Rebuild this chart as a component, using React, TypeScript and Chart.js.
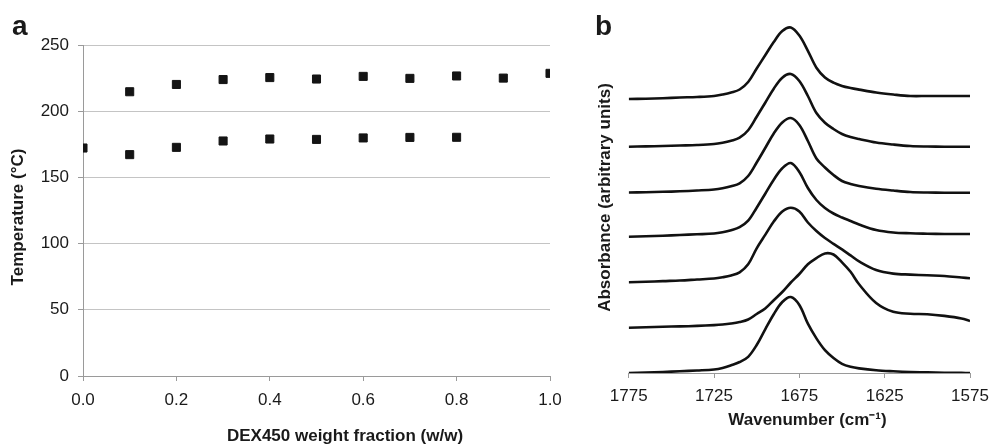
import React, { useEffect, useRef } from "react";
import { Chart, registerables } from "chart.js";

Chart.register(...registerables);

// ---------- Panel a data ----------
const weightFraction = [0, 0.1, 0.2, 0.3, 0.4, 0.5, 0.6, 0.7, 0.8, 0.9, 1.0];
const upperTransition = [null, 214.7, 220.2, 223.9, 225.4, 224.3, 226.3, 224.8, 226.6, 225.0, 228.6];
const lowerTransition = [172.2, 167.2, 172.7, 177.5, 179.0, 178.7, 179.8, 180.2, 180.3, null, null];

// ---------- Panel b data ----------
const wavenumbers = [1775, 1765, 1755, 1745, 1735, 1725, 1720, 1715, 1710, 1705, 1700, 1695, 1690, 1685, 1680, 1675, 1670, 1665, 1660, 1655, 1650, 1645, 1640, 1630, 1620, 1610, 1600, 1590, 1580, 1575];
const spectrum1 = [0, 0.03, 0.08, 0.15, 0.2, 0.3, 0.45, 0.65, 0.95, 1.7, 3.05, 4.37, 5.7, 6.8, 7.15, 6.34, 4.82, 3.13, 2.16, 1.64, 1.31, 1.1, 0.94, 0.65, 0.45, 0.3, 0.3, 0.3, 0.3, 0.3];
const spectrum2 = [0, 0.03, 0.07, 0.12, 0.17, 0.27, 0.4, 0.6, 0.9, 1.65, 3.0, 4.4, 5.8, 6.9, 7.27, 6.57, 5.07, 3.37, 2.4, 1.77, 1.27, 0.97, 0.77, 0.42, 0.22, 0.07, 0.02, 0, 0, 0];
const spectrum3 = [0, 0.03, 0.07, 0.12, 0.2, 0.3, 0.42, 0.62, 0.92, 1.65, 3.0, 4.45, 5.9, 7.0, 7.45, 6.75, 5.15, 3.4, 2.5, 1.75, 1.15, 0.85, 0.65, 0.38, 0.2, 0.05, 0, -0.02, -0.02, -0.02];
const spectrum4 = [0, 0.04, 0.1, 0.17, 0.24, 0.32, 0.45, 0.65, 0.95, 1.6, 2.9, 4.3, 5.7, 6.85, 7.37, 6.47, 4.87, 3.67, 2.87, 2.32, 1.92, 1.57, 1.22, 0.67, 0.42, 0.34, 0.3, 0.27, 0.27, 0.27];
const spectrum5 = [0, 0.05, 0.12, 0.18, 0.28, 0.38, 0.5, 0.68, 1.0, 1.8, 3.4, 4.74, 6.07, 7.08, 7.46, 7.08, 5.98, 5.13, 4.43, 3.85, 3.29, 2.69, 2.09, 1.23, 0.87, 0.77, 0.7, 0.63, 0.48, 0.4];
const spectrum6 = [0, 0.05, 0.1, 0.13, 0.18, 0.26, 0.32, 0.42, 0.57, 0.82, 1.37, 1.92, 2.75, 3.57, 4.52, 5.37, 6.34, 6.96, 7.43, 7.32, 6.54, 5.59, 4.34, 2.47, 1.59, 1.4, 1.35, 1.18, 0.92, 0.67];
const spectrum7 = [0, 0.04, 0.1, 0.17, 0.25, 0.35, 0.5, 0.77, 1.1, 1.62, 2.8, 4.37, 5.88, 7.1, 7.6, 6.8, 4.93, 3.46, 2.28, 1.5, 0.92, 0.62, 0.46, 0.27, 0.17, 0.1, 0.07, 0.03, 0.01, 0];
const spectra = [spectrum1, spectrum2, spectrum3, spectrum4, spectrum5, spectrum6, spectrum7];
const spectrumOffsets = [27.4, 22.63, 18.05, 13.63, 9.07, 4.53, 0];
const wavenumberTicks = [1775, 1725, 1675, 1625, 1575];

const FONT = '"Liberation Sans", Arial, Helvetica, sans-serif';
const TEXT = "#1a1a1a";
const GRID = "#c4c4c4";
const AXIS = "#9a9a9a";

function textPlugin(draw: (ctx: CanvasRenderingContext2D) => void) {
  return {
    id: "extraText",
    afterDraw(chart: any) {
      const ctx = chart.ctx as CanvasRenderingContext2D;
      ctx.save();
      draw(ctx);
      ctx.restore();
    },
  };
}

const noScalePadding = (s: any) => {
  s.paddingLeft = 0;
  s.paddingRight = 0;
};

function PanelA() {
  const ref = useRef<HTMLCanvasElement>(null);
  useEffect(() => {
    if (!ref.current) return;
    const mk = (arr: (number | null)[]) =>
      weightFraction
        .map((x, i) => ({ x, y: arr[i] }))
        .filter((p) => p.y !== null);
    const pointStyle = {
      pointStyle: "rect" as const,
      pointRadius: 5.7,
      pointBackgroundColor: "#141414",
      pointBorderColor: "#141414",
      pointBorderWidth: 1,
      showLine: false,
    };
    const chart = new Chart(ref.current, {
      type: "scatter",
      data: {
        datasets: [
          { data: mk(upperTransition) as any, ...pointStyle },
          { data: mk(lowerTransition) as any, ...pointStyle },
        ],
      },
      options: {
        responsive: false,
        animation: false,
        layout: { padding: { left: 0, top: 45, right: 25, bottom: 0 } },
        plugins: { legend: { display: false }, tooltip: { enabled: false } },
        scales: {
          x: {
            type: "linear",
            min: 0,
            max: 1,
            afterFit: (s: any) => {
              s.height = 70;
              noScalePadding(s);
            },
            ticks: {
              stepSize: 0.2,
              padding: 9,
              color: TEXT,
              font: { family: FONT, size: 17 },
              callback: (v: any) => Number(v).toFixed(1),
              maxRotation: 0,
            },
            grid: { drawOnChartArea: false, drawTicks: true, tickLength: 5, tickColor: AXIS },
            border: { color: AXIS, width: 1 },
          },
          y: {
            min: 0,
            max: 250,
            afterFit: (s: any) => {
              s.width = 83;
            },
            ticks: {
              stepSize: 50,
              padding: 9,
              color: TEXT,
              font: { family: FONT, size: 17 },
            },
            grid: { color: GRID, lineWidth: 1, tickLength: 5, tickColor: AXIS },
            border: { color: AXIS, width: 1 },
          },
        },
      },
      plugins: [
        textPlugin((ctx) => {
          ctx.fillStyle = TEXT;
          ctx.font = `bold 28px ${FONT}`;
          ctx.textAlign = "left";
          ctx.textBaseline = "alphabetic";
          ctx.fillText("a", 12, 35);
          ctx.font = `bold 17px ${FONT}`;
          ctx.textAlign = "center";
          ctx.textBaseline = "middle";
          ctx.fillText("DEX450 weight fraction (w/w)", 345, 436.5);
          ctx.translate(18.5, 217);
          ctx.rotate(-Math.PI / 2);
          ctx.fillText("Temperature (°C)", 0, 0);
        }),
      ],
    });
    return () => chart.destroy();
  }, []);
  return (
    <canvas
      ref={ref}
      width={575}
      height={446}
      style={{ position: "absolute", left: 0, top: 0, width: 575, height: 446 }}
    />
  );
}

function PanelB() {
  const ref = useRef<HTMLCanvasElement>(null);
  useEffect(() => {
    if (!ref.current) return;
    const datasets = spectra.map((s, k) => ({
      data: wavenumbers.map((w, i) => ({ x: w, y: s[i] + spectrumOffsets[k] })),
      borderColor: "#111111",
      borderWidth: 2.6,
      pointRadius: 0,
      fill: false,
      tension: 0.35,
    }));
    const chart = new Chart(ref.current, {
      type: "line",
      data: { datasets: datasets as any },
      options: {
        responsive: false,
        animation: false,
        layout: { padding: { left: 53.7, top: 23, right: 22, bottom: 0 } },
        plugins: { legend: { display: false }, tooltip: { enabled: false } },
        scales: {
          x: {
            type: "linear",
            min: 1575,
            max: 1775,
            reverse: true,
            afterFit: (s: any) => {
              s.height = 73;
              noScalePadding(s);
            },
            afterBuildTicks: (s: any) => {
              s.ticks = wavenumberTicks.map((v) => ({ value: v }));
            },
            ticks: {
              padding: 8,
              color: TEXT,
              font: { family: FONT, size: 17 },
              callback: (v: any) => String(v),
              maxRotation: 0,
              autoSkip: false,
            },
            grid: { drawOnChartArea: false, drawTicks: true, tickLength: 5, tickColor: AXIS },
            border: { color: AXIS, width: 1 },
          },
          y: {
            display: false,
            min: 0,
            max: 35,
          },
        },
      },
      plugins: [
        textPlugin((ctx) => {
          ctx.fillStyle = TEXT;
          ctx.font = `bold 28px ${FONT}`;
          ctx.textAlign = "left";
          ctx.textBaseline = "alphabetic";
          ctx.fillText("b", 20, 35);
          ctx.font = `bold 17px ${FONT}`;
          ctx.textAlign = "center";
          ctx.textBaseline = "middle";
          ctx.fillText("Wavenumber (cm⁻¹)", 232.5, 420.5);
          ctx.translate(30, 197.5);
          ctx.rotate(-Math.PI / 2);
          ctx.fillText("Absorbance (arbitrary units)", 0, 0);
        }),
      ],
    });
    return () => chart.destroy();
  }, []);
  return (
    <canvas
      ref={ref}
      width={417}
      height={446}
      style={{ position: "absolute", left: 575, top: 0, width: 417, height: 446 }}
    />
  );
}

export default function App() {
  return (
    <div
      style={{
        position: "fixed",
        left: 0,
        top: 0,
        width: 992,
        height: 446,
        background: "#ffffff",
        overflow: "hidden",
      }}
    >
      <PanelA />
      <PanelB />
    </div>
  );
}
